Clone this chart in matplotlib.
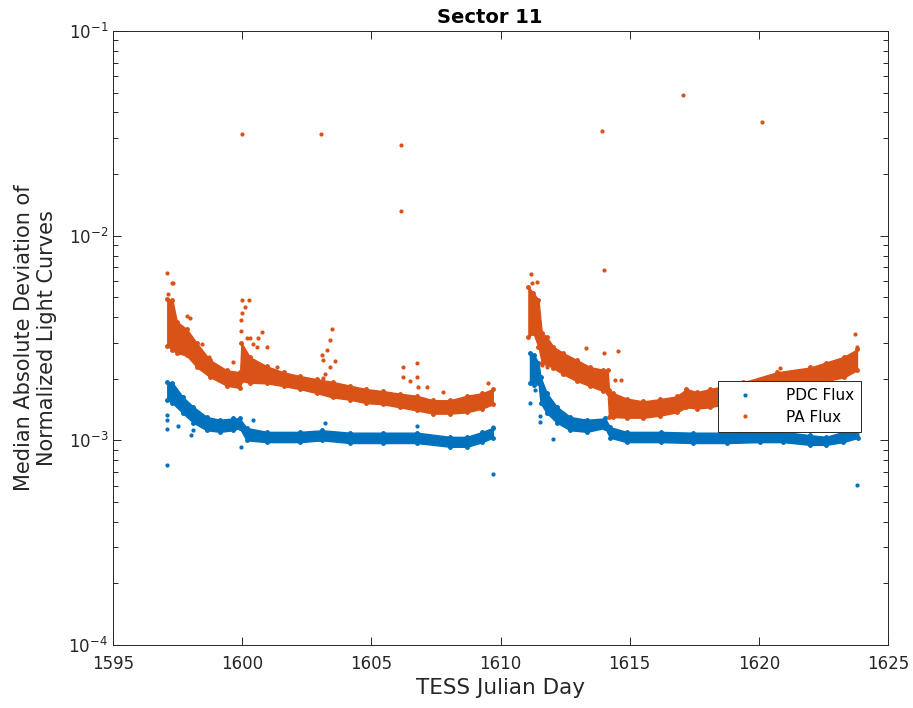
import numpy as np
import matplotlib.pyplot as plt
from matplotlib.ticker import LogLocator, NullFormatter

# Valores (día TESS, límites inferior / superior de la banda)
pa_day = [1597.10, 1597.30, 1597.47, 1597.85, 1598.24, 1598.75, 1599.40, 1599.92,
          1599.97, 1600.30, 1600.95, 1601.60, 1602.24, 1602.89, 1603.50, 1604.17,
          1604.80, 1605.46, 1606.10, 1606.76, 1607.40, 1608.05, 1608.69, 1609.30,
          1609.70]
pa_lo = [2.90e-3, 2.76e-3, 2.67e-3, 2.60e-3, 2.28e-3, 2.04e-3, 1.85e-3, 1.80e-3,
         1.95e-3, 1.91e-3, 1.90e-3, 1.84e-3, 1.78e-3, 1.70e-3, 1.62e-3, 1.58e-3,
         1.52e-3, 1.50e-3, 1.45e-3, 1.40e-3, 1.35e-3, 1.35e-3, 1.37e-3, 1.43e-3,
         1.50e-3]
pa_hi = [4.90e-3, 4.85e-3, 3.80e-3, 3.50e-3, 2.99e-3, 2.47e-3, 2.20e-3, 2.15e-3,
         2.99e-3, 2.55e-3, 2.30e-3, 2.15e-3, 2.06e-3, 1.99e-3, 1.93e-3, 1.85e-3,
         1.78e-3, 1.74e-3, 1.69e-3, 1.65e-3, 1.57e-3, 1.57e-3, 1.65e-3, 1.70e-3,
         1.78e-3]

pa_day2 = [1611.08, 1611.27, 1611.47, 1611.60, 1611.79, 1612.05, 1612.43, 1612.95,
           1613.47, 1613.98, 1614.15, 1614.20, 1614.37, 1614.88, 1615.53, 1616.18,
           1616.82, 1617.20, 1617.60, 1618.10, 1619.40, 1620.70, 1622.00, 1622.60,
           1623.30, 1623.80]
pa_lo2 = [3.20e-3, 3.35e-3, 2.86e-3, 2.39e-3, 2.35e-3, 2.25e-3, 2.10e-3, 1.95e-3,
          1.84e-3, 1.74e-3, 1.70e-3, 1.30e-3, 1.30e-3, 1.29e-3, 1.29e-3, 1.32e-3,
          1.37e-3, 1.45e-3, 1.43e-3, 1.45e-3, 1.57e-3, 1.67e-3, 1.84e-3, 1.95e-3,
          2.03e-3, 2.20e-3]
pa_hi2 = [5.62e-3, 5.25e-3, 4.85e-3, 3.35e-3, 3.20e-3, 2.86e-3, 2.67e-3, 2.47e-3,
          2.28e-3, 2.21e-3, 2.21e-3, 1.76e-3, 1.70e-3, 1.60e-3, 1.55e-3, 1.59e-3,
          1.64e-3, 1.78e-3, 1.72e-3, 1.78e-3, 1.92e-3, 2.15e-3, 2.27e-3, 2.40e-3,
          2.56e-3, 2.78e-3]

pdc_day = [1597.10, 1597.30, 1597.70, 1598.10, 1598.63, 1599.14, 1599.65, 1599.90,
           1600.17, 1600.95, 1602.24, 1603.10, 1604.17, 1605.46, 1606.76, 1608.05,
           1608.70, 1609.30, 1609.70]
pdc_lo = [1.58e-3, 1.52e-3, 1.36e-3, 1.22e-3, 1.12e-3, 1.10e-3, 1.12e-3, 1.15e-3,
          1.00e-3, 0.98e-3, 0.98e-3, 1.00e-3, 0.97e-3, 0.97e-3, 0.97e-3, 0.93e-3,
          0.93e-3, 0.98e-3, 1.03e-3]
pdc_hi = [1.93e-3, 1.91e-3, 1.63e-3, 1.46e-3, 1.30e-3, 1.26e-3, 1.28e-3, 1.28e-3,
          1.15e-3, 1.10e-3, 1.10e-3, 1.12e-3, 1.09e-3, 1.09e-3, 1.09e-3, 1.04e-3,
          1.04e-3, 1.10e-3, 1.15e-3]

pdc_day2 = [1611.14, 1611.30, 1611.47, 1611.55, 1611.79, 1612.18, 1612.70, 1613.34,
            1614.05, 1614.24, 1614.88, 1616.20, 1617.47, 1618.76, 1620.05, 1620.95,
            1621.98, 1622.60, 1623.27, 1623.85]
pdc_lo2 = [1.91e-3, 1.86e-3, 1.91e-3, 1.52e-3, 1.36e-3, 1.22e-3, 1.12e-3, 1.10e-3,
           1.15e-3, 1.03e-3, 0.98e-3, 0.98e-3, 0.97e-3, 0.97e-3, 0.98e-3, 0.98e-3,
           0.95e-3, 0.95e-3, 0.98e-3, 1.03e-3]
pdc_hi2 = [2.67e-3, 2.61e-3, 2.39e-3, 2.04e-3, 1.70e-3, 1.46e-3, 1.30e-3, 1.26e-3,
           1.28e-3, 1.16e-3, 1.10e-3, 1.10e-3, 1.09e-3, 1.09e-3, 1.10e-3, 1.10e-3,
           1.06e-3, 1.04e-3, 1.10e-3, 1.15e-3]

# Puntos sueltos (fuera de la banda)
pa_out_day = [1599.99, 1603.05, 1606.15, 1606.15, 1613.93, 1614.00, 1617.07, 1620.13,
              1599.98, 1600.28, 1600.11, 1599.98, 1599.94, 1599.94, 1600.17, 1600.30,
              1600.63, 1600.76, 1600.43, 1600.56, 1600.95, 1601.34, 1598.43, 1597.85,
              1597.98, 1598.73, 1599.66, 1597.08, 1597.27, 1597.33, 1597.14,
              1603.47, 1603.40, 1603.27, 1603.08, 1603.14, 1603.60, 1603.40, 1603.21,
              1603.14, 1606.76, 1606.24, 1606.24, 1606.50, 1606.76, 1606.82, 1607.14,
              1607.79, 1609.53, 1611.17, 1611.21, 1611.40, 1613.31, 1614.01, 1614.56,
              1612.89, 1614.44, 1614.67, 1620.82, 1620.89, 1623.73, 1623.79, 1623.34,
              1611.62, 1611.79, 1617.21, 1617.47]
pa_out_val = [3.14e-2, 3.14e-2, 2.77e-2, 1.32e-2, 3.25e-2, 6.80e-3, 4.87e-2, 3.59e-2,
              4.85e-3, 4.85e-3, 4.50e-3, 4.17e-3, 3.88e-3, 3.42e-3, 3.16e-3, 3.16e-3,
              3.16e-3, 3.37e-3, 2.97e-3, 2.87e-3, 2.87e-3, 2.29e-3, 2.97e-3, 4.07e-3,
              3.95e-3, 2.56e-3, 2.41e-3, 6.55e-3, 5.87e-3, 5.90e-3, 5.20e-3,
              3.50e-3, 3.09e-3, 2.76e-3, 2.61e-3, 2.47e-3, 2.43e-3, 2.29e-3, 2.12e-3,
              2.01e-3, 2.40e-3, 2.29e-3, 2.04e-3, 1.94e-3, 2.04e-3, 1.83e-3, 1.83e-3,
              1.73e-3, 1.90e-3, 6.50e-3, 5.87e-3, 5.95e-3, 2.82e-3, 2.67e-3, 2.73e-3,
              2.44e-3, 1.97e-3, 1.97e-3, 2.25e-3, 2.08e-3, 3.30e-3, 2.87e-3, 2.56e-3,
              2.33e-3, 2.29e-3, 1.76e-3, 1.69e-3]

pdc_out_day = [1597.08, 1609.72, 1599.96, 1597.53, 1598.00, 1598.11, 1600.41, 1597.08,
               1597.08, 1597.08, 1603.21, 1606.76, 1609.72, 1611.15, 1611.34, 1611.53,
               1611.53, 1611.79, 1612.05, 1623.80]
pdc_out_val = [7.58e-4, 6.85e-4, 9.28e-4, 1.18e-3, 1.06e-3, 1.12e-3, 1.26e-3, 1.33e-3,
               1.26e-3, 1.14e-3, 1.21e-3, 1.18e-3, 1.16e-3, 1.52e-3, 1.76e-3, 1.31e-3,
               1.23e-3, 1.67e-3, 1.02e-3, 6.05e-4]

# Colores por defecto de MATLAB
c_pdc = '#0072BD'
c_pa = '#D95319'

plt.rcParams['font.family'] = ['DejaVu Sans']

fig = plt.figure(figsize=(9.13, 7.08), dpi=100)
ax = fig.add_axes([0.1238, 0.0890, 0.8488, 0.8672])

# Bandas densas de puntos: relleno entre los bordes leídos y puntos en los bordes
bands = [(pdc_day, pdc_lo, pdc_hi, c_pdc), (pdc_day2, pdc_lo2, pdc_hi2, c_pdc),
         (pa_day, pa_lo, pa_hi, c_pa), (pa_day2, pa_lo2, pa_hi2, c_pa)]
for d, lo, hi, c in bands:
    ax.fill_between(d, lo, hi, color=c, linewidth=1.0, edgecolor=c)
    ax.plot(d, lo, '.', color=c, markersize=5)
    ax.plot(d, hi, '.', color=c, markersize=5)

# Puntos sueltos
ax.plot(pdc_out_day, pdc_out_val, '.', color=c_pdc, markersize=4, label='PDC Flux')
ax.plot(pa_out_day, pa_out_val, '.', color=c_pa, markersize=4, label='PA Flux')

ax.set_yscale('log')
ax.set_xlim(1595, 1625)
ax.set_ylim(1e-4, 1e-1)
ax.set_xticks(np.arange(1595, 1626, 5))
ax.yaxis.set_major_locator(LogLocator(base=10, numticks=10))
ax.yaxis.set_minor_locator(LogLocator(base=10, subs=np.arange(2, 10), numticks=10))
ax.yaxis.set_minor_formatter(NullFormatter())

# Estilo tipo MATLAB: ticks hacia dentro en los cuatro lados
ax.tick_params(which='both', direction='in', top=True, right=True,
               colors='#262626', labelsize=12)
ax.tick_params(which='major', length=6, width=0.7)
ax.tick_params(which='minor', length=3.5, width=0.7)
ax.tick_params(axis='x', pad=7)
for s in ax.spines.values():
    s.set_color('#262626')
    s.set_linewidth(0.7)

ax.set_xlabel('TESS Julian Day', fontsize=15.5, color='#262626')
ax.set_ylabel('Median Absolute Deviation of\nNormalized Light Curves',
              fontsize=15, color='#262626', labelpad=8)
ax.set_title('Sector 11', fontsize=14, fontweight='bold', pad=6, x=0.486)

leg = ax.legend(loc='upper left', bbox_to_anchor=(0.7806, 0.430),
                borderaxespad=0, fancybox=False, frameon=True, fontsize=11,
                framealpha=1, markerscale=1.0, handlelength=2.6,
                handletextpad=1.4, borderpad=0.45, labelspacing=0.45)
leg.get_frame().set_edgecolor('#262626')
leg.get_frame().set_linewidth(0.7)

fig.savefig('out.png', dpi=100)
